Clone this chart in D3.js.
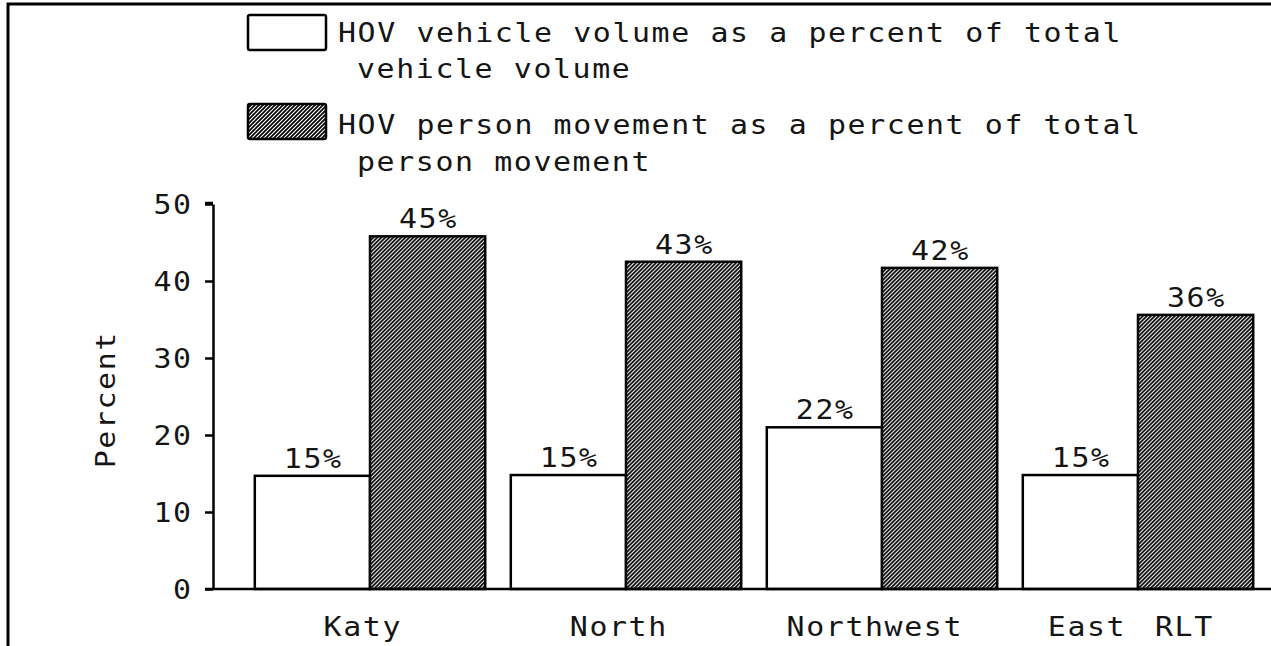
<!DOCTYPE html>
<html>
<head>
<meta charset="utf-8">
<script src="https://cdn.jsdelivr.net/npm/d3@7"></script>
<style>
  body { margin: 0; background: #fff; }
  text { font-family: "DejaVu Sans Mono", monospace; fill: #151515; }
</style>
</head>
<body>
<svg id="chart" width="1271" height="646"></svg>
<script>
// data
const corridors = ["Katy", "North", "Northwest", "East RLT"];
const vehiclePct = [14.7, 14.8, 21.0, 14.8];
const personPct = [45.8, 42.5, 41.7, 35.6];
const vehicleLabels = ["15%", "15%", "22%", "15%"];
const personLabels = ["45%", "43%", "42%", "36%"];
const yTicks = [0, 10, 20, 30, 40, 50];
const seriesKeys = ["vehicle", "person"];
const legendLines = [
  ["HOV vehicle volume as a percent of total", "vehicle volume"],
  ["HOV person movement as a percent of total", "person movement"]
];

const svg = d3.select('#chart');
const fs = 26, ls = 1.4, sx = 1.15; // wide plotter-ish lettering

// widen glyphs horizontally: x is given in page units
function label(parent, px, py, str, anchor, extra){
  let t = parent.append('text')
    .attr('transform', 'translate(' + px + ',' + py + ')' + (extra || '') + ' scale(' + sx + ',1)')
    .attr('font-size', fs).attr('letter-spacing', ls)
    .attr('text-anchor', anchor || 'start')
    .text(str);
  // trailing letter-spacing pushes centred / right text left
  if(anchor == 'middle') t.attr('dx', ls / 2);
  if(anchor == 'end') t.attr('dx', ls);
  return t;
}

svg.append('rect').attr('width', 1271).attr('height', 646).attr('fill', '#fff');

// hatch for person series
const defs = svg.append('defs');
const pat = defs.append('pattern')
  .attr('id', 'hatch')
  .attr('patternUnits', 'userSpaceOnUse')
  .attr('width', 4).attr('height', 4);
pat.append('rect').attr('width', 4).attr('height', 4).attr('fill', '#fff');
pat.append('path')
  .attr('d', 'M-1,1 l2,-2 M0,4 l4,-4 M3,5 l2,-2')
  .attr('stroke', '#000').attr('stroke-width', 1.7);

// page frame (top + left only)
svg.append('path').attr('d', 'M8,646 V4 H1271')
  .attr('fill', 'none').attr('stroke', '#000').attr('stroke-width', 3);

const x0 = 213, yBase = 589, yTop = 204;
const x = d3.scaleBand().domain(corridors).range([242, 1266])
  .paddingInner(0.1).paddingOuter(0.05);
const xs = d3.scaleBand().domain(seriesKeys).range([0, x.bandwidth()]).padding(0);
const y = d3.scaleLinear().domain([0, 50]).range([yBase, yTop]);

// y axis
const yAxis = svg.append('g').attr('transform', 'translate(' + x0 + ',0)')
  .call(d3.axisLeft(y).tickValues(yTicks).tickSize(8).tickFormat('').tickSizeOuter(0));
yAxis.select('.domain').attr('stroke', '#000').attr('stroke-width', 2.5);
yAxis.selectAll('.tick line').attr('stroke', '#000').attr('stroke-width', 2.5);
yAxis.selectAll('.tick').each(function(d){
  label(d3.select(this), -22, 0, d, 'end').attr('dy', '0.36em');
});
// little hook at the top tick
svg.append('path').attr('d', 'M' + (x0 - 8) + ',' + (y(50) - 1) + ' H' + x0)
  .attr('stroke', '#000').attr('stroke-width', 2.5);

label(svg, 115, y(25) + 4, 'Percent', 'middle', ' rotate(-90)');

// bars
const groups = svg.selectAll('g.grp').data(corridors).join('g')
  .attr('class', 'grp')
  .attr('transform', d => 'translate(' + x(d) + ',0)');

groups.append('rect')
  .attr('x', xs('vehicle'))
  .attr('y', (d, i) => y(vehiclePct[i]))
  .attr('width', xs.bandwidth())
  .attr('height', (d, i) => yBase - y(vehiclePct[i]))
  .attr('fill', '#fff').attr('stroke', '#000').attr('stroke-width', 2.5);

groups.append('rect')
  .attr('x', xs('person'))
  .attr('y', (d, i) => y(personPct[i]))
  .attr('width', xs.bandwidth())
  .attr('height', (d, i) => yBase - y(personPct[i]))
  .attr('fill', 'url(#hatch)').attr('stroke', '#000').attr('stroke-width', 2.5);

groups.each(function(d, i){
  let g = d3.select(this);
  label(g, xs('vehicle') + xs.bandwidth() / 2, y(vehiclePct[i]) - 8, vehicleLabels[i], 'middle');
  label(g, xs('person') + xs.bandwidth() / 2, y(personPct[i]) - 8, personLabels[i], 'middle');
});

// x axis line + labels
svg.append('line').attr('x1', x0 - 8).attr('x2', 1271)
  .attr('y1', yBase).attr('y2', yBase)
  .attr('stroke', '#000').attr('stroke-width', 2.5);

const xAxis = svg.append('g').attr('transform', 'translate(0,' + yBase + ')')
  .call(d3.axisBottom(x).tickSize(0).tickFormat(''));
xAxis.select('.domain').remove();
xAxis.selectAll('.tick').each(function(d){
  label(d3.select(this), -8, 47, d, 'middle').attr('word-spacing', 8);
});

// legend
const lg = svg.append('g');
const legY = [15, 104];
const legBase = [[42, 78], [134, 171]];
legendLines.forEach(function(lines, i){
  lg.append('rect')
    .attr('x', 248).attr('y', legY[i]).attr('width', 78).attr('height', 35)
    .attr('rx', 2)
    .attr('fill', i == 0 ? '#fff' : 'url(#hatch)')
    .attr('stroke', '#000').attr('stroke-width', 2.5);
  label(lg, 338, legBase[i][0], lines[0]);
  label(lg, 357, legBase[i][1], lines[1]);
});
</script>
</body>
</html>
